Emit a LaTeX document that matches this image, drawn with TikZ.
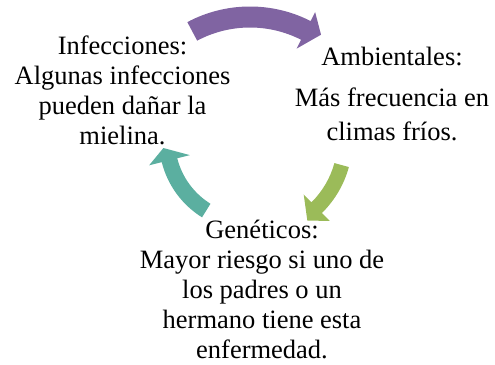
\documentclass[tikz,border=0pt]{standalone}
\usepackage{fontspec}
\setmainfont{Liberation Serif}
\definecolor{cpurple}{RGB}{128,100,162}
\definecolor{cgreen}{RGB}{155,187,89}
\definecolor{cteal}{RGB}{91,175,160}
% #1 colour, #2 centre radius, #3 half body width, #4 head half width,
% #5 tail angle, #6 head base angle, #7 tip angle, #8 tip radius
\newcommand\cycarrow[8]{%
  \fill[#1] (#5:{#2pt+#3pt}) arc[start angle=#5,end angle=#6,radius={#2pt+#3pt}]
    -- (#6:{#2pt+#4pt}) -- (#7:{#8pt}) -- (#6:{#2pt-#4pt}) -- (#6:{#2pt-#3pt})
    arc[start angle=#6,end angle=#5,radius={#2pt-#3pt}] -- cycle;}
\begin{document}
\begin{tikzpicture}[x=1pt,y=1pt,
  txt/.style={anchor=base,inner sep=0pt,font=\fontsize{26.5}{30}\selectfont}]
\useasboundingbox (0,0) rectangle (495,364);
\begin{scope}[shift={(250,224)}]
  \cycarrow{cpurple}{123}{10.5}{20.5}{118}{63}{56}{127}
  \cycarrow{cgreen}{95}{7.5}{18.5}{-15.3}{-45.4}{-54.6}{99}
  \cycarrow{cteal}{83}{8}{21}{238.2}{194.1}{185.3}{87}
\end{scope}
% Infecciones
\node[txt] (inf1) at (122.5,309) {Infecciones:};
\node[txt] (inf2) at (122.5,279) {Algunas infecciones};
\node[txt] (inf3) at (122.5,249) {pueden dañar la};
\node[txt] (inf4) at (122.5,219) {mielina.};
% Ambientales
\node[txt] (amb1) at (392,298) {Ambientales:};
\node[txt] (amb2) at (392,257) {Más frecuencia en};
\node[txt] (amb3) at (392,223) {climas fríos.};
% Geneticos
\node[txt] (gen1) at (262,125.5) {Genéticos:};
\node[txt] (gen2) at (262,95.5) {Mayor riesgo si uno de};
\node[txt] (gen3) at (262,65.5) {los padres o un};
\node[txt] (gen4) at (262,35.5) {hermano tiene esta};
\node[txt] (gen5) at (262,5.5) {enfermedad.};
\end{tikzpicture}
\end{document}
